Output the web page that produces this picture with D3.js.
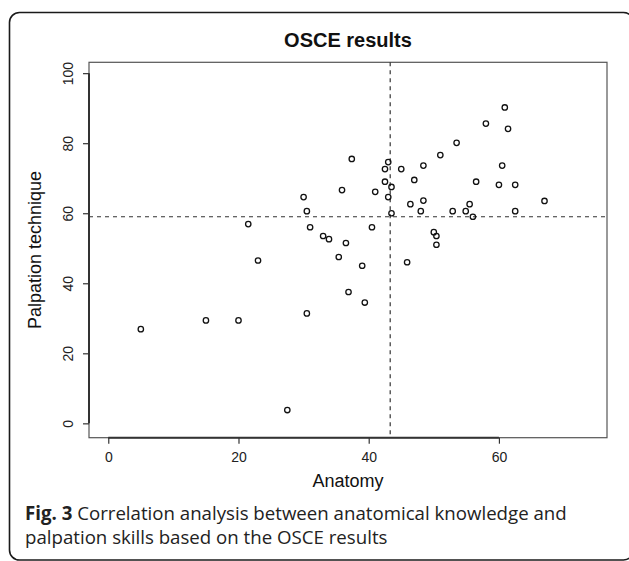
<!DOCTYPE html>
<html>
<head>
<meta charset="utf-8">
<script src="https://cdn.jsdelivr.net/npm/d3@7"></script>
<style>
  html, body { margin: 0; padding: 0; background: #fff; }
  svg { display: block; }
</style>
</head>
<body>
<svg id="chart" width="629" height="561"></svg>
<script>
// ---- data ----
const anatomy = [5.0, 15.0, 20.0, 21.5, 23.0, 27.5, 30.0, 30.5, 31.0, 30.5, 33.0, 33.9, 35.4, 35.9, 36.5, 36.9, 37.4, 39.0, 39.4, 40.5, 41.0,
  42.5, 43.0, 42.5, 43.5, 43.0, 43.5, 45.0, 45.9, 46.4, 47.0, 48.0, 48.4, 48.4, 50.0, 50.4, 50.4, 51.0, 52.9, 53.5, 54.9, 55.5, 56.0, 56.5,
  58.0, 60.0, 60.5, 60.9, 61.4, 62.5, 62.5, 67.0];
const palpation = [26.9, 29.4, 29.4, 56.9, 46.5, 3.8, 64.6, 60.6, 56.0, 31.4, 53.5, 52.6, 47.5, 66.6, 51.5, 37.5, 75.5, 45.0, 34.5, 56.0, 66.1,
  72.6, 74.6, 69.0, 67.5, 64.6, 60.0, 72.6, 46.0, 62.6, 69.5, 60.6, 73.6, 63.6, 54.6, 53.5, 51.0, 76.6, 60.6, 80.1, 60.6, 62.6, 59.0, 69.0,
  85.6, 68.1, 73.6, 90.2, 84.1, 68.1, 60.6, 63.5];
const meanAnatomy = 43.3;
const meanPalpation = 59.0;
const xTicks = [0, 20, 40, 60];
const yTicks = [0, 20, 40, 60, 80, 100];
const titleText = "OSCE results";
const xLabel = "Anatomy";
const yLabel = "Palpation technique";
const captionBold = "Fig. 3";
const captionLine1 = " Correlation analysis between anatomical knowledge and";
const captionLine2 = "palpation skills based on the OSCE results";

(function () {
const points = anatomy.map((a, i) => ({ a, p: palpation[i] }));

// ---- layout ----
const svg = d3.select("#chart");
const pLeft = 89, pRight = 607, pTop = 62.3, pBottom = 437.7;
const x = d3.scaleLinear().domain([-2.96, 76.6]).range([pLeft, pRight]);
const y = d3.scaleLinear().domain([-4.1, 103.1]).range([pBottom, pTop]);
const plotFont = "'Liberation Sans', Arial, Helvetica, sans-serif";

// outer rounded frame
svg.append("rect")
  .attr("x", 9.5).attr("y", 12.5)
  .attr("width", 624).attr("height", 547.5)
  .attr("rx", 10).attr("ry", 10)
  .attr("fill", "none").attr("stroke", "#1a1a1a").attr("stroke-width", 1.6);

// title
svg.append("text")
  .attr("x", (pLeft + pRight) / 2).attr("y", 47)
  .attr("text-anchor", "middle")
  .attr("font-family", plotFont).attr("font-weight", "bold").attr("font-size", 20)
  .attr("fill", "#111")
  .text(titleText);

// plot box
svg.append("rect")
  .attr("x", pLeft).attr("y", pTop)
  .attr("width", pRight - pLeft).attr("height", pBottom - pTop)
  .attr("fill", "none").attr("stroke", "#555").attr("stroke-width", 1.2);

// reference lines (means)
svg.append("line")
  .attr("x1", pLeft).attr("x2", pRight)
  .attr("y1", y(meanPalpation)).attr("y2", y(meanPalpation))
  .attr("stroke", "#333").attr("stroke-width", 1.2).attr("stroke-dasharray", "4,4");
svg.append("line")
  .attr("x1", x(meanAnatomy)).attr("x2", x(meanAnatomy))
  .attr("y1", pTop).attr("y2", pBottom)
  .attr("stroke", "#333").attr("stroke-width", 1.2).attr("stroke-dasharray", "4,4");

// x axis
const gx = svg.append("g").attr("transform", `translate(0,${pBottom})`)
  .call(d3.axisBottom(x).tickValues(xTicks).tickSize(6).tickFormat(d3.format("d")));
gx.select(".domain").remove();
gx.selectAll(".tick line").attr("stroke", "#333").attr("stroke-width", 1.2);
gx.selectAll(".tick text")
  .attr("y", 24).attr("dy", 0)
  .attr("font-family", plotFont).attr("font-size", 14).attr("fill", "#222");
svg.append("line")
  .attr("x1", x(xTicks[0])).attr("x2", x(xTicks[xTicks.length - 1]))
  .attr("y1", pBottom).attr("y2", pBottom)
  .attr("stroke", "#333").attr("stroke-width", 2);

// y axis
const gy = svg.append("g").attr("transform", `translate(${pLeft},0)`)
  .call(d3.axisLeft(y).tickValues(yTicks).tickSize(6).tickFormat(d3.format("d")));
gy.select(".domain").remove();
gy.selectAll(".tick line").attr("stroke", "#333").attr("stroke-width", 1.2);
gy.selectAll(".tick text")
  .attr("x", 0).attr("dy", 0)
  .attr("transform", "translate(-15.7,0) rotate(-90)")
  .attr("text-anchor", "middle")
  .attr("font-family", plotFont).attr("font-size", 14).attr("fill", "#222");
svg.append("line")
  .attr("x1", pLeft).attr("x2", pLeft)
  .attr("y1", y(yTicks[0])).attr("y2", y(yTicks[yTicks.length - 1]))
  .attr("stroke", "#333").attr("stroke-width", 2);

// axis titles
svg.append("text")
  .attr("x", (pLeft + pRight) / 2).attr("y", 487.3)
  .attr("text-anchor", "middle")
  .attr("font-family", plotFont).attr("font-size", 18).attr("fill", "#111")
  .text(xLabel);
svg.append("text")
  .attr("transform", `translate(41,${(pTop + pBottom) / 2}) rotate(-90)`)
  .attr("text-anchor", "middle")
  .attr("font-family", plotFont).attr("font-size", 18).attr("fill", "#111")
  .text(yLabel);

// points
svg.append("g").selectAll("circle")
  .data(points).join("circle")
  .attr("cx", d => x(d.a)).attr("cy", d => y(d.p))
  .attr("r", 2.7)
  .attr("fill", "none").attr("stroke", "#111").attr("stroke-width", 1.3);

// caption
const capFont = "'Open Sans', 'Noto Sans', sans-serif";
const cap1 = svg.append("text")
  .attr("x", 25).attr("y", 520)
  .attr("font-family", capFont).attr("font-size", 17.5).attr("fill", "#222");
cap1.append("tspan").attr("font-weight", "bold").text(captionBold);
cap1.append("tspan").text(captionLine1);
const cap2 = svg.append("text")
  .attr("x", 25).attr("y", 544)
  .attr("font-family", capFont).attr("font-size", 17.5).attr("fill", "#222")
  .text(captionLine2);
// fit caption line 1 to the reference width (~542px)
const w1 = cap1.node().getComputedTextLength();
if (w1 > 0) {
  const fs = 17.5 * 542 / w1;
  cap1.attr("font-size", fs);
  cap2.attr("font-size", fs);
}
})();
</script>
</body>
</html>
